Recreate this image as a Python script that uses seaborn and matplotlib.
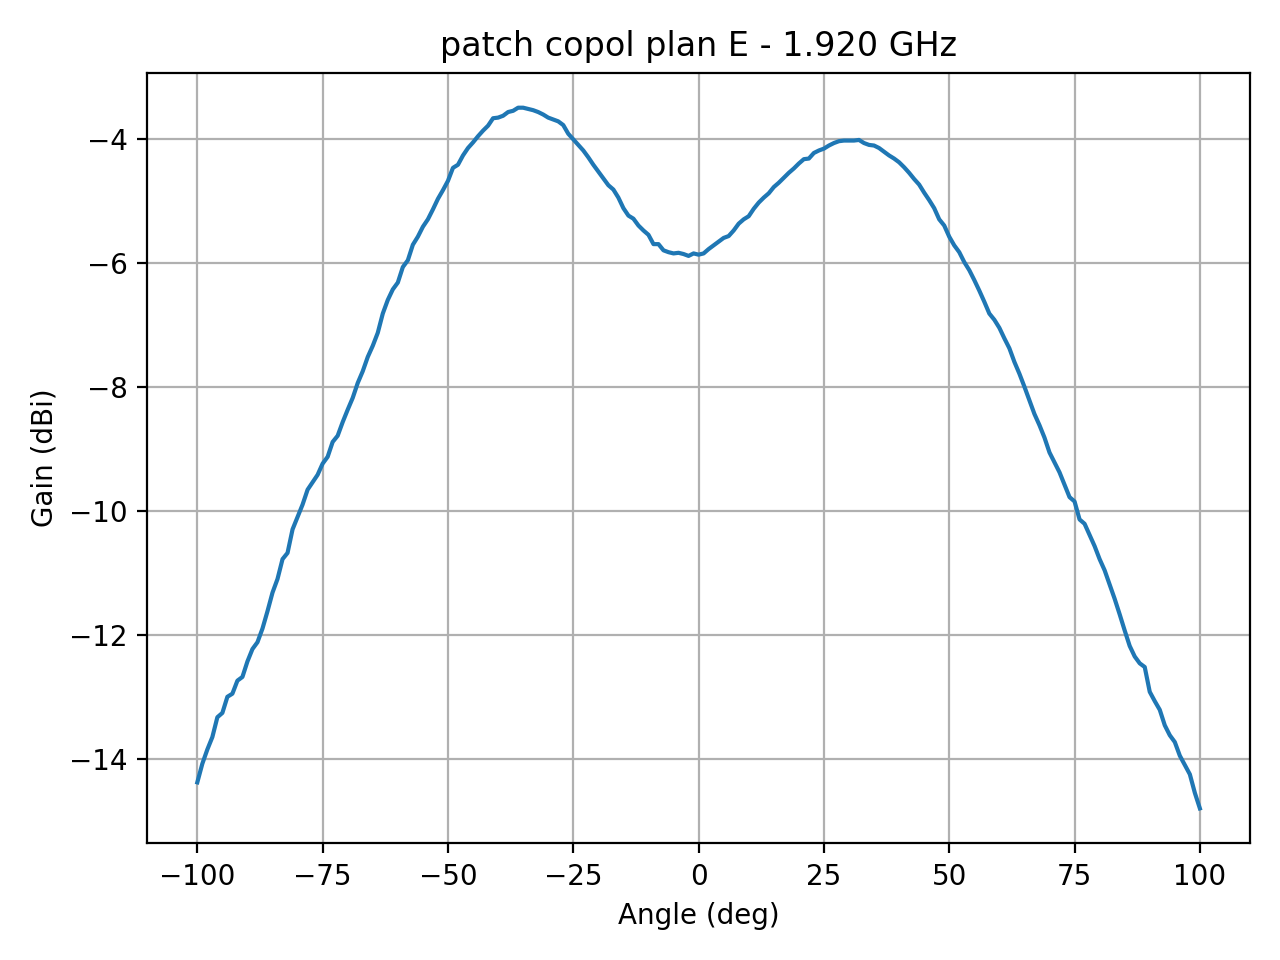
import matplotlib
matplotlib.use("Agg")
import matplotlib.pyplot as plt
import seaborn as sns
import numpy as np
import pandas as pd

angles = list(range(-100, 101))

gain = [
    # -100 .. -51
    -14.38, -14.08, -13.85, -13.65, -13.33, -13.26, -13.00, -12.95, -12.74, -12.68,
    -12.43, -12.23, -12.12, -11.90, -11.62, -11.32, -11.10, -10.78, -10.68, -10.30,
    -10.10, -9.90, -9.66, -9.54, -9.42, -9.24, -9.13, -8.89, -8.79, -8.57,
    -8.37, -8.18, -7.94, -7.75, -7.52, -7.34, -7.13, -6.82, -6.60, -6.43,
    -6.32, -6.07, -5.96, -5.71, -5.58, -5.42, -5.30, -5.14, -4.97, -4.83,
    # -50 .. -1
    -4.68, -4.47, -4.42, -4.27, -4.15, -4.06, -3.96, -3.87, -3.79, -3.67,
    -3.66, -3.63, -3.57, -3.55, -3.50, -3.50, -3.52, -3.54, -3.57, -3.61,
    -3.66, -3.69, -3.72, -3.78, -3.92, -4.01, -4.10, -4.19, -4.30, -4.42,
    -4.53, -4.64, -4.75, -4.82, -4.95, -5.12, -5.24, -5.29, -5.40, -5.48,
    -5.55, -5.70, -5.70, -5.80, -5.83, -5.85, -5.84, -5.86, -5.89, -5.85,
    # 0 .. 49
    -5.87, -5.85, -5.78, -5.72, -5.66, -5.60, -5.57, -5.48, -5.37, -5.30,
    -5.25, -5.13, -5.03, -4.95, -4.88, -4.78, -4.71, -4.63, -4.55, -4.48,
    -4.40, -4.33, -4.32, -4.23, -4.19, -4.16, -4.11, -4.07, -4.04, -4.03,
    -4.03, -4.03, -4.02, -4.07, -4.10, -4.11, -4.15, -4.21, -4.27, -4.32,
    -4.38, -4.46, -4.55, -4.65, -4.74, -4.87, -4.99, -5.12, -5.30, -5.40,
    # 50 .. 100
    -5.58, -5.72, -5.83, -5.99, -6.12, -6.28, -6.45, -6.63, -6.82, -6.92,
    -7.05, -7.22, -7.38, -7.60, -7.79, -8.00, -8.22, -8.44, -8.62, -8.82,
    -9.06, -9.22, -9.38, -9.58, -9.78, -9.85, -10.14, -10.21, -10.39, -10.57,
    -10.78, -10.96, -11.19, -11.42, -11.67, -11.93, -12.18, -12.35, -12.46, -12.52,
    -12.92, -13.07, -13.21, -13.46, -13.62, -13.73, -13.95, -14.10, -14.25, -14.55,
    -14.80,
]

title = "patch copol plan E - 1.920 GHz"
xlabel = "Angle (deg)"
ylabel = "Gain (dBi)"

df = pd.DataFrame({"angle": angles, "gain": gain})

fig, ax = plt.subplots(figsize=(6.4, 4.8), dpi=200)
sns.lineplot(data=df, x="angle", y="gain", ax=ax, color="#1f77b4", linewidth=1.5)
ax.set_title(title)
ax.set_xlabel(xlabel)
ax.set_ylabel(ylabel)
ax.grid(True)
fig.tight_layout()
fig.savefig("out.png", dpi=200)
